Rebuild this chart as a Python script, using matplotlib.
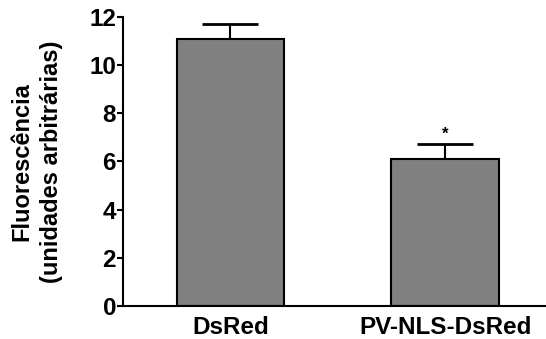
import matplotlib
matplotlib.use("Agg")
import matplotlib.pyplot as plt

plt.rcParams['font.family'] = ['Liberation Sans', 'DejaVu Sans']
plt.rcParams['font.weight'] = 'bold'

groups = ['DsRed', 'PV-NLS-DsRed']
means = [11.1, 6.1]
errors = [0.62, 0.62]
stars = ['', '*']
yticks = [0, 2, 4, 6, 8, 10, 12]

fig = plt.figure(figsize=(5.46, 3.39), dpi=100)
ax = fig.add_axes([0.2253, 0.0973, 0.7747, 0.8526])

x = range(len(groups))
ax.bar(x, means, width=0.5, color='#808080', edgecolor='black', linewidth=1.5, zorder=2)
ax.errorbar(x, means, yerr=[[0] * len(errors), errors], fmt='none', ecolor='black',
            elinewidth=1.5, capsize=20, capthick=2, zorder=1)
for xi, m, e, s in zip(x, means, errors, stars):
    if s:
        ax.text(xi, m + e + 0.08, s, ha='center', va='bottom', fontsize=12, fontweight='bold')

ax.set_xlim(-0.5, 1.47)
ax.set_ylim(0, 12)
ax.set_yticks(yticks)
ax.set_xticks(list(x))
ax.set_xticklabels(groups)
ax.tick_params(axis='x', length=0, pad=7, labelsize=17.5)
ax.tick_params(axis='y', length=4, width=1.5, pad=1, labelsize=17.5)

for side in ['top', 'right']:
    ax.spines[side].set_visible(False)
for side in ['left', 'bottom']:
    ax.spines[side].set_linewidth(1.5)

ax.set_ylabel('Fluorescência\n(unidades arbitrárias)', fontsize=17, fontweight='bold',
              linespacing=1.35)
ax.yaxis.set_label_coords(-0.142, 0.5)

fig.savefig('out.png', dpi=100)
